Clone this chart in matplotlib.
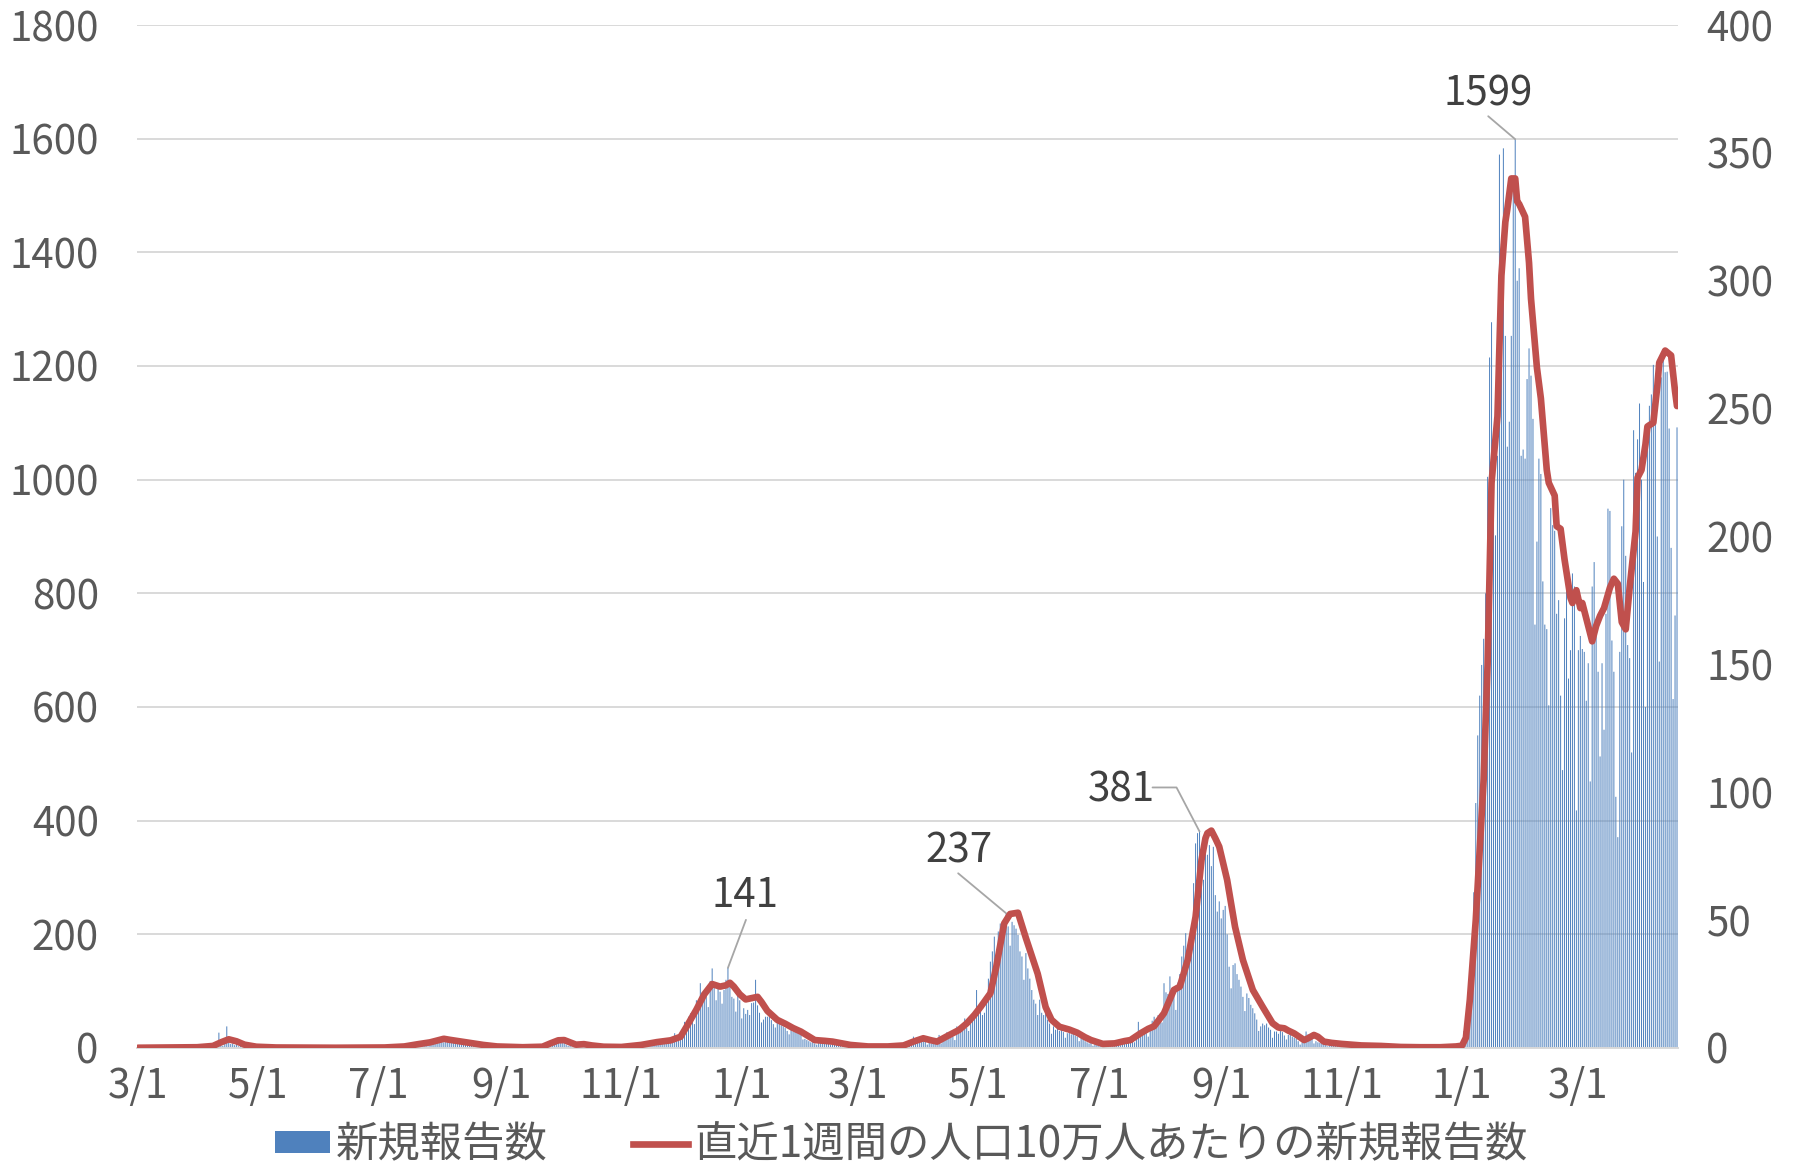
import matplotlib
matplotlib.use("Agg")
import matplotlib.pyplot as plt
import pandas as pd
from matplotlib.lines import Line2D
from matplotlib.patches import Patch

plt.rcParams['font.family'] = ['Noto Sans CJK JP', 'DejaVu Sans']

# ---------------- data ----------------
start_date = "2020-03-01"

cases_2020_03 = [0,0,0,0,0,0,1,0,0,0, 0,0,0,0,1,0,0,0,0,0, 0,0,0,0,1,2,0,1,0,2, 1]
cases_2020_04 = [1,2,1,3,2,4,3,6,5,10, 27,5,4,8,38,10,7,8,5,7, 3,4,2,5,2,2,1,1,0,1]
cases_2020_05 = [0,1,0,0,0,1,0,0,0,0, 0,0,1,0,0,0,0,0,0,0, 0,0,0,0,0,0,0,0,0,1, 0]
cases_2020_06 = [0,0,0,0,0,0,0,0,1,0, 0,0,0,0,0,0,0,0,0,0, 1,0,0,0,0,0,0,0,0,0]
cases_2020_07 = [0,0,1,0,0,0,0,1,0,1, 0,1,2,1,0,2,1,3,1,2, 3,2,12,5,6,3,7,8,9,11, 10]
cases_2020_08 = [12,15,10,16,18,14,13,11,9,14, 12,10,11,8,7,6,9,8,7,6, 5,5,4,6,3,4,3,2,3,2, 2]
cases_2020_09 = [2,1,1,0,1,2,1,0,1,1, 0,1,0,1,0,0,1,0,1,0, 1,0,2,3,5,8,10,12,9,14]
cases_2020_10 = [15,11,9,6,4,5,3,4,2,3, 5,7,8,4,3,2,3,2,1,2, 1,1,2,1,0,1,2,1,1,0, 1]
cases_2020_11 = [1,0,2,1,3,2,1,2,4,3, 5,4,6,3,5,7,9,6,11,14, 10,8,9,12,11,15,13,26,17,20]
cases_2020_12 = [28,34,46,40,55,61,48,42,84,76, 114,98,90,102,72,118,140,108,84,110,
                 99,78,102,120,141,116,90,87,64,96, 84]
cases_2021_01 = [52,70,60,67,58,79,80,120,75,62, 45,50,55,55,58,49,42,36,46,44,
                 40,38,35,30,24,32,29,30,27,25, 26]
cases_2021_02 = [15,16,14,12,10,11,8,6,10,9, 10,9,8,7,6,10,12,9,11,8, 9,7,5,6,4,5,4,3]
cases_2021_03 = [3,2,4,1,2,3,2,1,3,2, 2,1,3,2,1,2,1,2,4,3, 2,1,3,2,5,4,6,10,20,12, 14]
cases_2021_04 = [18,16,15,12,6,9,8,10,9,12, 23,8,16,19,28,22,25,20,14,38,
                 33,35,42,52,36,30,43,55,66,102]
cases_2021_05 = [75,70,58,62,90,122,152,170,196,160, 205,219,208,225,237,214,180,222,216,210,
                 199,170,161,120,167,140,122,102,85,78, 58]
cases_2021_06 = [85,62,58,61,50,43,25,38,32,36, 30,35,28,18,26,28,24,27,22,20,
                 12,20,16,12,10,8,9,4,7,6]
cases_2021_07 = [6,5,8,6,3,7,9,8,10,9, 7,5,11,14,13,16,15,12,10,25,
                 46,30,28,32,26,20,35,48,55,44, 58]
cases_2021_08 = [60,45,114,98,95,126,105,100,67,115, 130,161,180,202,175,150,202,290,360,378,
                 381,330,296,354,340,357,320,354,269,240, 258]
cases_2021_09 = [228,243,250,200,143,105,146,149,130,120, 108,90,65,96,88,76,70,61,50,30,
                 38,43,40,43,36,32,18,29,29,25]
cases_2021_10 = [30,28,22,15,23,25,20,18,16,12, 6,10,14,29,24,20,16,8,12,10,
                 9,8,10,7,3,8,6,7,5,6, 4]
cases_2021_11 = [2,4,3,5,2,3,4,1,2,3, 4,2,3,1,2,1,3,2,1,2, 3,2,1,0,2,1,1,2,0,1]
cases_2021_12 = [1,0,2,1,0,1,2,0,1,0, 1,2,1,0,0,1,2,1,0,1, 0,1,2,1,3,2,4,3,5,6, 8]
cases_2022_01 = [12,30,58,85,112,139,274,431,550,620, 674,720,800,1005,1215,1277,929,902,1042,1572,
                 1415,1583,1253,1058,1102,1253,1507,1599,1350,1372, 1042]
cases_2022_02 = [1053,1037,1177,1231,1183,1107,745,891,1037,1010, 821,745,737,603,950,920,910,764,788,620,
                 489,756,835,650,700,835,812,418]
cases_2022_03 = [700,725,702,697,611,677,469,812,855,725, 662,513,677,560,764,949,945,717,662,442,
                 371,697,918,1000,866,709,686,520,1087,1012, 1071]
cases_2022_04 = [1134,1000,820,600,1100,1130,1150,1202,1160,900, 680,1180,1230,1189,1190,1090,880,614,761,1092]

# 直近1週間の人口10万人あたり
line_dates = [
    "2020-03-01","2020-03-31","2020-04-08","2020-04-12","2020-04-16","2020-04-20","2020-04-24","2020-04-30",
    "2020-05-10","2020-06-09","2020-07-04","2020-07-14","2020-07-21","2020-07-27","2020-07-31","2020-08-03",
    "2020-08-06","2020-08-11","2020-08-16","2020-08-23","2020-08-30","2020-09-12","2020-09-22","2020-09-26",
    "2020-09-30","2020-10-03","2020-10-06","2020-10-09","2020-10-13","2020-10-17","2020-10-23","2020-11-01",
    "2020-11-11","2020-11-19","2020-11-26","2020-12-01","2020-12-04","2020-12-09","2020-12-13","2020-12-17",
    "2020-12-21","2020-12-24","2020-12-26","2020-12-28","2020-12-31","2021-01-03","2021-01-06","2021-01-09",
    "2021-01-11","2021-01-14","2021-01-19","2021-01-23","2021-01-27","2021-01-31","2021-02-04","2021-02-07",
    "2021-02-12","2021-02-16","2021-02-21","2021-02-25","2021-03-06","2021-03-16","2021-03-24","2021-03-29",
    "2021-04-03","2021-04-07","2021-04-10","2021-04-16","2021-04-21","2021-04-25","2021-04-29","2021-05-02",
    "2021-05-07","2021-05-10","2021-05-14","2021-05-17","2021-05-21","2021-05-25","2021-05-28","2021-05-31",
    "2021-06-04","2021-06-07","2021-06-11","2021-06-16","2021-06-20","2021-06-24","2021-06-27","2021-07-03",
    "2021-07-09","2021-07-14","2021-07-17","2021-07-22","2021-07-26","2021-07-29","2021-08-03","2021-08-08",
    "2021-08-11","2021-08-15","2021-08-19","2021-08-22","2021-08-24","2021-08-25","2021-08-27","2021-08-29",
    "2021-08-31","2021-09-04","2021-09-08","2021-09-12","2021-09-17","2021-09-22","2021-09-27","2021-09-30",
    "2021-10-03","2021-10-05","2021-10-08","2021-10-13","2021-10-15","2021-10-18","2021-10-20","2021-10-23",
    "2021-10-27","2021-11-01","2021-11-11","2021-11-21","2021-12-01","2021-12-11","2021-12-21","2021-12-29",
    "2022-01-01","2022-01-03","2022-01-05","2022-01-08","2022-01-12","2022-01-14","2022-01-16","2022-01-19",
    "2022-01-21","2022-01-23","2022-01-24","2022-01-26","2022-01-28","2022-01-29","2022-01-30","2022-02-02",
    "2022-02-04","2022-02-05","2022-02-08","2022-02-10","2022-02-13","2022-02-14","2022-02-17","2022-02-18",
    "2022-02-20","2022-02-22","2022-02-25","2022-02-26","2022-02-28","2022-03-02","2022-03-03","2022-03-05",
    "2022-03-08","2022-03-10","2022-03-12","2022-03-14","2022-03-17","2022-03-19","2022-03-21","2022-03-23",
    "2022-03-25","2022-03-27","2022-03-30","2022-03-31","2022-04-02","2022-04-04","2022-04-05","2022-04-08",
    "2022-04-10","2022-04-11","2022-04-14","2022-04-17","2022-04-19","2022-04-20",
]
line_values = [
    0.1, 0.3, 0.8, 2.2, 3.4, 2.6, 1.3, 0.5,
    0.2, 0.1, 0.2, 0.6, 1.5, 2.2, 3.0, 3.6,
    3.2, 2.6, 2.0, 1.2, 0.6, 0.3, 0.5, 1.8,
    3.0, 3.1, 2.2, 1.3, 1.5, 1.0, 0.5, 0.4,
    1.2, 2.3, 3.0, 4.4, 8.3, 15.0, 21.0, 25.0,
    24.0, 24.5, 25.5, 24.0, 21.0, 19.0, 19.5, 20.0,
    18.0, 14.5, 11.0, 9.5, 7.8, 6.4, 4.5, 3.1,
    2.8, 2.5, 1.8, 1.2, 0.6, 0.6, 1.0, 2.5,
    3.8, 3.0, 2.5, 5.0, 7.0, 9.6, 13.0, 16.0,
    21.4, 31.8, 48.7, 52.4, 52.9, 43.0, 36.0, 29.0,
    16.0, 11.0, 8.3, 7.2, 6.0, 4.2, 3.1, 1.6,
    1.8, 2.7, 3.1, 5.7, 7.5, 8.5, 13.6, 22.7,
    24.0, 34.4, 51.3, 73.5, 82.0, 84.0, 85.0, 82.0,
    78.7, 65.7, 47.4, 34.4, 22.7, 16.1, 9.7, 8.0,
    7.7, 6.8, 5.7, 3.1, 3.8, 5.1, 4.4, 2.5,
    2.0, 1.6, 1.0, 0.8, 0.4, 0.3, 0.3, 0.6,
    0.9, 4.0, 18.9, 50.0, 105.0, 150.0, 221.0, 247.0,
    302.0, 323.0, 328.0, 340.0, 340.0, 331.0, 330.0, 325.0,
    307.0, 293.0, 266.0, 254.0, 226.0, 221.0, 216.0, 204.0,
    203.0, 191.0, 176.0, 174.0, 179.0, 172.0, 174.0, 168.0,
    159.0, 165.0, 169.0, 172.0, 180.0, 183.5, 181.5, 166.5,
    163.7, 180.0, 202.0, 223.0, 226.0, 236.0, 243.0, 244.5,
    258.6, 268.0, 272.7, 270.8, 256.8, 251.0,
]

x_tick_dates = ["2020-03-01","2020-05-01","2020-07-01","2020-09-01","2020-11-01","2021-01-01",
                "2021-03-01","2021-05-01","2021-07-01","2021-09-01","2021-11-01","2022-01-01","2022-03-01"]
x_tick_labels = ["3/1","5/1","7/1","9/1","11/1","1/1","3/1","5/1","7/1","9/1","11/1","1/1","3/1"]
left_ticks = [0, 200, 400, 600, 800, 1000, 1200, 1400, 1600, 1800]
right_ticks = [0, 50, 100, 150, 200, 250, 300, 350, 400]

labelled_peaks = ["2020-12-25", "2021-05-15", "2021-08-21", "2022-01-28"]

bar_label = "新規報告数"
line_label = "直近1週間の人口10万人あたりの新規報告数"

cases = (cases_2020_03 + cases_2020_04 + cases_2020_05 + cases_2020_06 + cases_2020_07 +
         cases_2020_08 + cases_2020_09 + cases_2020_10 + cases_2020_11 + cases_2020_12 +
         cases_2021_01 + cases_2021_02 + cases_2021_03 + cases_2021_04 + cases_2021_05 +
         cases_2021_06 + cases_2021_07 + cases_2021_08 + cases_2021_09 + cases_2021_10 +
         cases_2021_11 + cases_2021_12 + cases_2022_01 + cases_2022_02 + cases_2022_03 +
         cases_2022_04)
dates = pd.date_range(start_date, periods=len(cases), freq="D")
series = pd.Series(cases, index=dates)

# ---------------- style ----------------
BAR_COLOR = "#4F81BD"
LINE_COLOR = "#C0504D"
TEXT_COLOR = "#595959"
GRID_COLOR = "#D9D9D9"
FS = 29

fig = plt.figure(figsize=(17.96, 11.71), dpi=100)
ax = fig.add_axes([0.07628, 0.10504, 0.85802, 0.87361])

bars = ax.bar(dates, cases, width=0.5, color=BAR_COLOR, linewidth=0, zorder=2)
for b in bars:
    b.set_snap(False)
ax.set_ylim(0, 1800)
ax.set_xlim(dates[0] - pd.Timedelta(hours=12), dates[-1] + pd.Timedelta(hours=12))
ax.set_yticks(left_ticks)
ax.set_yticklabels([str(t) for t in left_ticks])
ax.set_xticks(pd.to_datetime(x_tick_dates))
ax.set_xticklabels(x_tick_labels)
ax.yaxis.grid(True, color=GRID_COLOR, lw=1.4, zorder=0)
ax.set_axisbelow(True)
for s in ["top", "left", "right"]:
    ax.spines[s].set_visible(False)
ax.spines["bottom"].set_color(GRID_COLOR)
ax.spines["bottom"].set_linewidth(1.4)
ax.tick_params(axis="y", length=0, pad=27.5, labelsize=FS, labelcolor=TEXT_COLOR)
ax.tick_params(axis="x", length=0, pad=13, labelsize=FS, labelcolor=TEXT_COLOR)

ax2 = ax.twinx()
ax2.plot(pd.to_datetime(line_dates), line_values, color=LINE_COLOR, lw=4.8,
         solid_joinstyle="round", solid_capstyle="round", zorder=3)
ax2.set_ylim(0, 400)
ax2.set_yticks(right_ticks)
ax2.set_yticklabels([str(t) for t in right_ticks])
for s in ["top", "left", "right", "bottom"]:
    ax2.spines[s].set_visible(False)
ax2.tick_params(axis="y", length=0, pad=20.5, labelsize=FS, labelcolor=TEXT_COLOR)

# data labels with leader lines (offsets in pixels: leader start, text centre)
label_style = [
    dict(lead=(18, 48), text=(17, 72), conn="arc3,rad=0"),
    dict(lead=(-48, 40), text=(-47, 62), conn="arc3,rad=0"),
    dict(lead=(-35, 44), text=(-78, 41), conn="angle,angleA=0,angleB=117.6,rad=0"),
    dict(lead=(-27, 23), text=(-27, 45), conn="arc3,rad=0"),
]
for d, st in zip(labelled_peaks, label_style):
    dt = pd.Timestamp(d)
    v = series[dt]
    if st["conn"].startswith("angle"):
        lx0 = st["lead"][0] - 12
        ax2.annotate("", xy=(dt, v * 400 / 1800), xytext=(lx0, st["lead"][1]),
                     textcoords="offset pixels",
                     arrowprops=dict(arrowstyle="-", color="#A6A6A6", lw=1.3,
                                     shrinkA=0, shrinkB=0, connectionstyle=st["conn"]),
                     zorder=1)
    else:
        ax2.annotate("", xy=(dt, v * 400 / 1800), xytext=st["lead"], textcoords="offset pixels",
                     arrowprops=dict(arrowstyle="-", color="#A6A6A6", lw=1.3,
                                     shrinkA=0, shrinkB=0),
                     zorder=1)
    ax2.annotate(str(v), xy=(dt, v * 400 / 1800), xytext=st["text"], textcoords="offset pixels",
                 ha="center", va="center", fontsize=FS, color="#404040", zorder=5)

handles = [Patch(facecolor=BAR_COLOR, edgecolor="none"),
           Line2D([], [], color=LINE_COLOR, lw=4.8)]
fig.legend(handles, [bar_label, line_label], loc="center", bbox_to_anchor=(0.5017, 0.022),
           ncol=2, frameon=False, fontsize=30.5, labelcolor=TEXT_COLOR,
           handlelength=1.3, handleheight=0.4, handletextpad=0.15, columnspacing=2.0)

fig.savefig("out.png", dpi=100)
